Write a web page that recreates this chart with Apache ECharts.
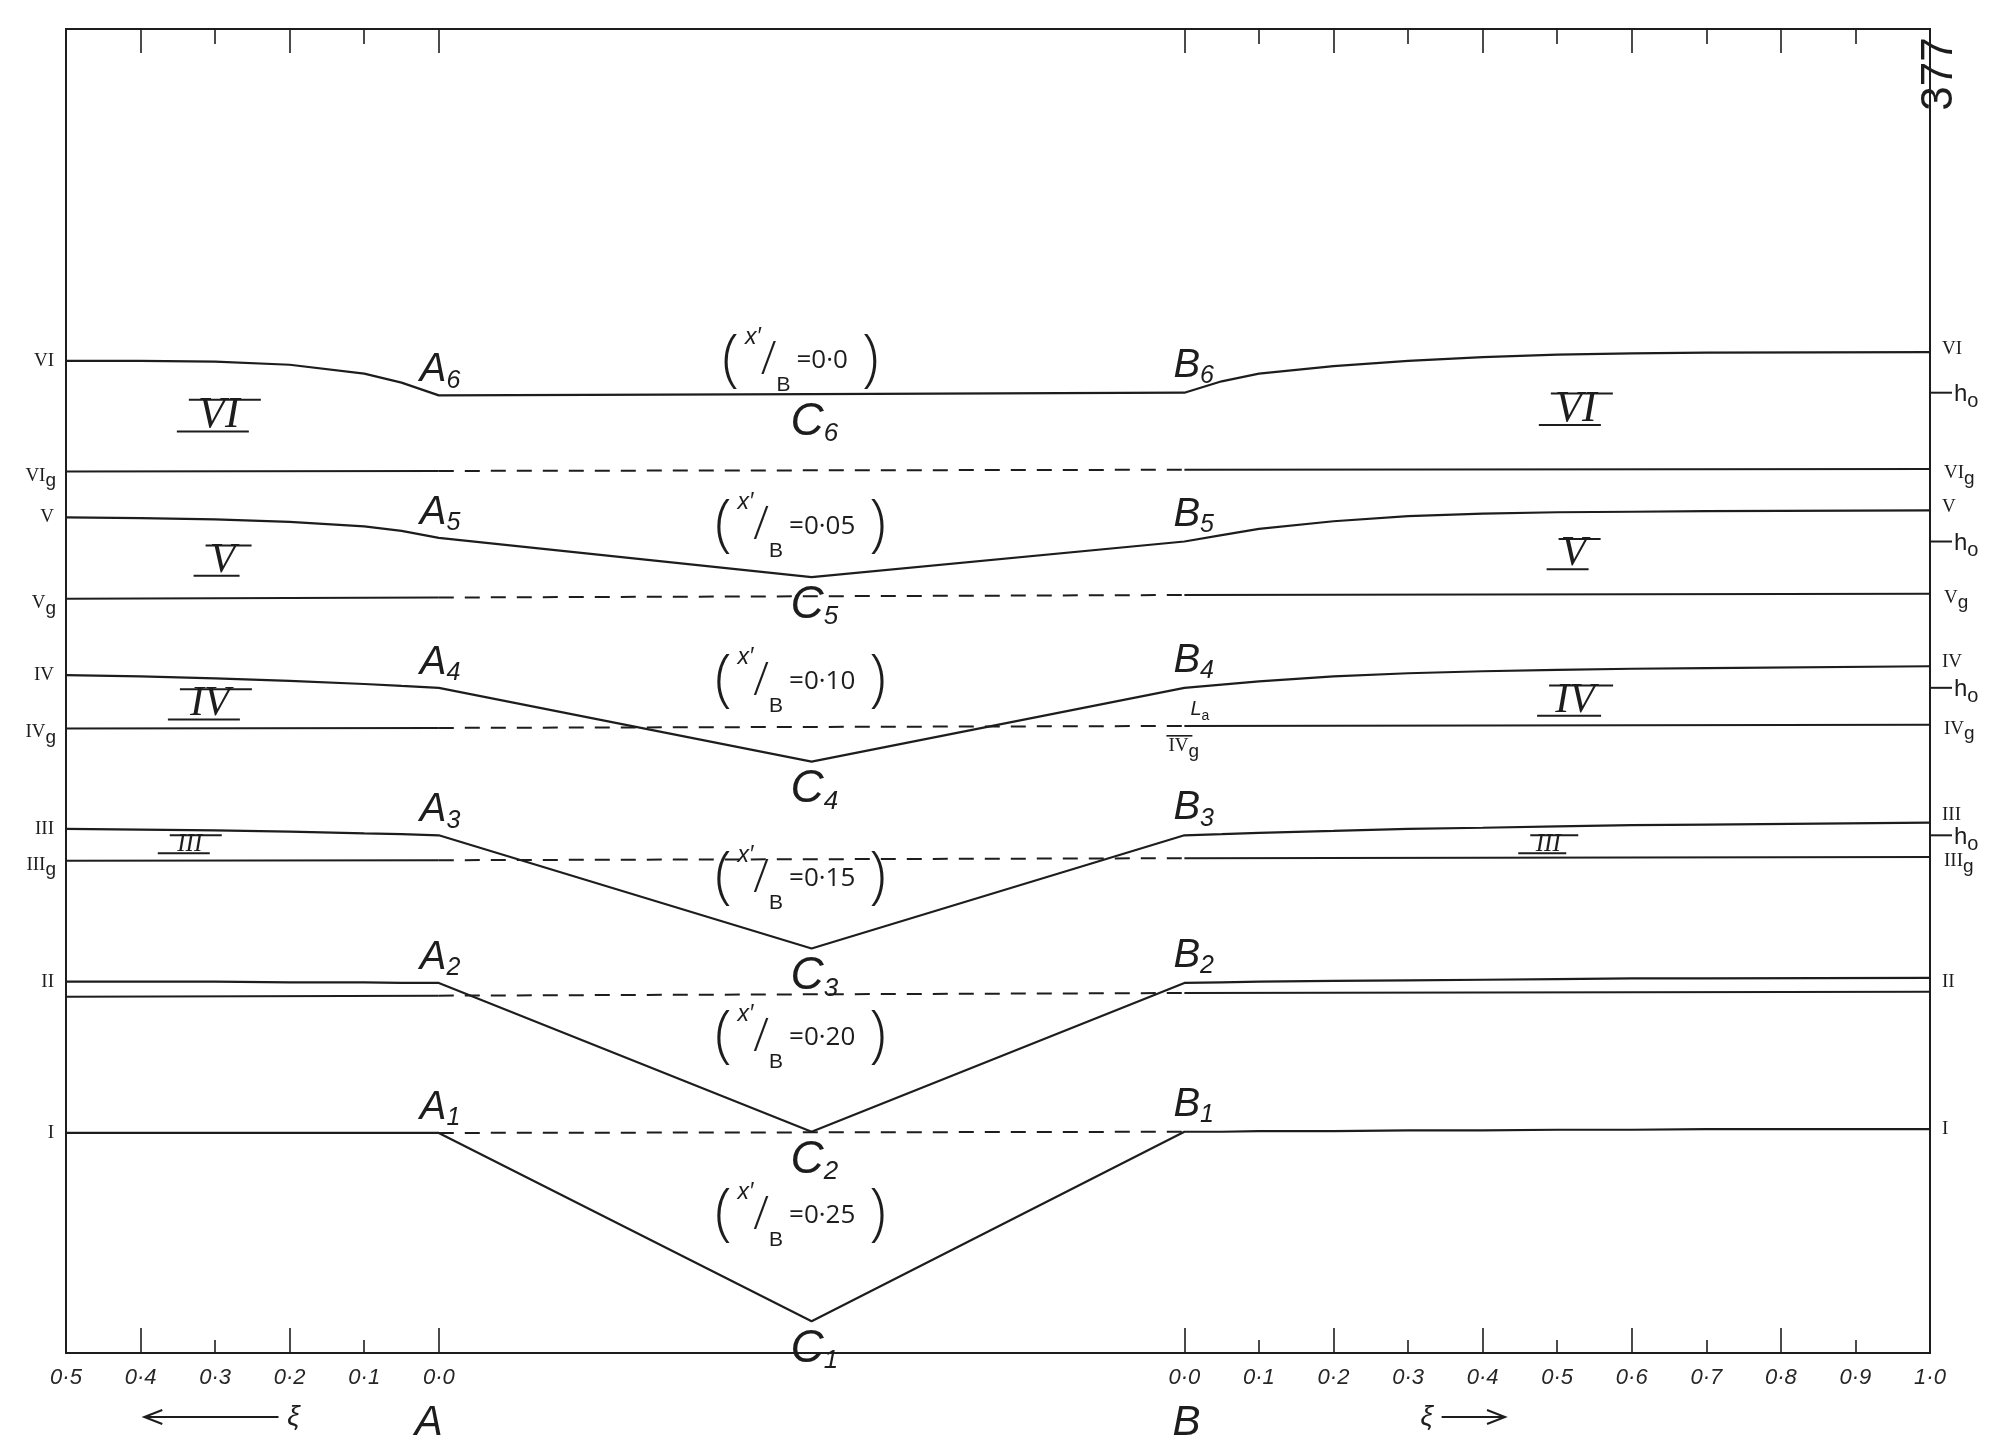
<!DOCTYPE html>
<html>
<head>
<meta charset="utf-8">
<script src="https://cdn.jsdelivr.net/npm/echarts@6/dist/echarts.min.js"></script>
<style>
  html, body { margin: 0; padding: 0; background: #ffffff; }
  #chart { width: 1996px; height: 1443px; }
</style>
</head>
<body>
<div id="chart"></div>
<script>
// Stations along the channel (one unit = 0·1 of ξ):
// 0–5 upstream reach (ξ 0·5 → 0·0 at A), 5–15 the reach A–B (C at 10), 15–25 downstream reach (ξ 0·0 → 1·0 from B)
const stations = [0, 1, 2, 3, 4, 4.5, 5, 10, 15, 15.5, 16, 17, 18, 19, 20, 21, 22, 25];

// Water-surface profiles, height above datum (arbitrary units, 0–100 over the frame)
const profileVI  = [74.93, 74.93, 74.88, 74.64, 73.97, 73.29, 72.33, 72.43, 72.53, 73.39, 73.97, 74.54, 74.93, 75.22, 75.41, 75.50, 75.55, 75.60];
const profileV   = [63.11, 63.05, 62.97, 62.78, 62.44, 62.10, 61.57, 58.60, 61.29, 61.77, 62.25, 62.82, 63.21, 63.40, 63.50, 63.54, 63.59, 63.64];
const profileIV  = [51.20, 51.10, 50.96, 50.77, 50.53, 50.38, 50.24, 44.67, 50.24, 50.48, 50.72, 51.10, 51.34, 51.49, 51.59, 51.68, 51.73, 51.87];
const profileIII = [39.58, 39.53, 39.48, 39.38, 39.24, 39.19, 39.10, 30.55, 39.10, 39.19, 39.29, 39.43, 39.58, 39.67, 39.77, 39.87, 39.91, 40.06];
const profileII  = [28.05, 28.05, 28.05, 28.00, 28.00, 27.95, 27.95, 16.71, 27.95, 28.00, 28.05, 28.10, 28.15, 28.19, 28.24, 28.29, 28.29, 28.34];
const profileI   = [16.62, 16.62, 16.62, 16.62, 16.62, 16.62, 16.62, 2.40, 16.71, 16.71, 16.76, 16.76, 16.81, 16.81, 16.86, 16.86, 16.91, 16.91];

// Levels g (solid outside A–B, dashed between A and B)
const levelStations = [0, 5, 15, 25];
const levelVIg  = [66.57, 66.62, 66.71, 66.76];
const levelVg   = [56.96, 57.06, 57.25, 57.35];
const levelIVg  = [47.17, 47.21, 47.36, 47.45];
const levelIIIg = [37.18, 37.22, 37.37, 37.46];
const levelIIg  = [26.90, 26.99, 27.19, 27.28];
const levelIgStations = [5, 15];
const levelIg   = [16.62, 16.71];

// Cases and their x'/B ratios
const caseNames  = ['VI', 'V', 'IV', 'III', 'II', 'I'];
const caseIndex  = ['6', '5', '4', '3', '2', '1'];
const ratioTexts = ['0·0', '0·05', '0·10', '0·15', '0·20', '0·25'];

// ξ tick labels
const upstreamTickLabels   = ['0·5', '0·4', '0·3', '0·2', '0·1', '0·0'];                                   // stations 0–5
const downstreamTickLabels = ['0·0', '0·1', '0·2', '0·3', '0·4', '0·5', '0·6', '0·7', '0·8', '0·9', '1·0']; // stations 15–25
const labelStations = [0, 1, 2, 3, 4, 5, 15, 16, 17, 18, 19, 20, 21, 22, 23, 24, 25];
const longTickStations  = [1, 3, 5, 15, 17, 19, 21, 23];
const shortTickStations = [2, 4, 16, 18, 20, 22, 24];

const profiles = [profileVI, profileV, profileIV, profileIII, profileII, profileI];
const levels = [levelVIg, levelVg, levelIVg, levelIIIg, levelIIg];

const INK = '#1d1d1d';
const HAND = "'Liberation Sans', 'DejaVu Sans', sans-serif";
const TYPE = "'Liberation Serif', 'DejaVu Serif', serif";
const THIN = "'Open Sans', 'Liberation Sans', sans-serif";

const pairs = (xs, ys) => xs.map((x, i) => [x, ys[i]]);
const iA = stations.indexOf(5), iC = stations.indexOf(10), iB = stations.indexOf(15);

const series = [];
profiles.forEach((p, k) => {
  series.push({
    type: 'line', name: 'profile ' + caseNames[k], data: pairs(stations, p),
    showSymbol: false, smooth: false, silent: true,
    lineStyle: { color: INK, width: 2.2 }
  });
});
levels.forEach((lv, k) => {
  const pts = pairs(levelStations, lv);
  series.push({ type: 'line', data: [pts[0], pts[1]], showSymbol: false, silent: true, lineStyle: { color: INK, width: 2 } });
  series.push({ type: 'line', data: [pts[1], pts[2]], showSymbol: false, silent: true, lineStyle: { color: INK, width: 2, type: [15, 11] } });
  series.push({ type: 'line', data: [pts[2], pts[3]], showSymbol: false, silent: true, lineStyle: { color: INK, width: 2 } });
});
series.push({ type: 'line', data: pairs(levelIgStations, levelIg), showSymbol: false, silent: true, lineStyle: { color: INK, width: 2, type: [15, 11] } });
// small rings at the break points A, C, B
series.push({
  type: 'scatter', silent: true, symbol: 'emptyCircle', symbolSize: 6,
  itemStyle: { color: '#fff', borderColor: INK, borderWidth: 1.3 },
  data: profiles.flatMap(p => [[5, p[iA]], [10, p[iC]], [15, p[iB]]])
});

const tickLine = { color: INK, width: 1.6 };
const xBase = { type: 'value', min: 0, max: 25, splitLine: { show: false }, axisLine: { show: false } };

const chart = echarts.init(document.getElementById('chart'), null, { renderer: 'canvas', width: 1996, height: 1443 });
chart.setOption({
  animation: false,
  backgroundColor: '#ffffff',
  grid: { left: 66, right: 66, top: 29, bottom: 90, show: true, borderColor: INK, borderWidth: 2, backgroundColor: 'transparent' },
  xAxis: [
    Object.assign({}, xBase, {
      position: 'bottom',
      axisTick: { show: true, inside: true, length: 25, customValues: longTickStations, lineStyle: tickLine },
      axisLabel: {
        show: true, customValues: labelStations, margin: 14,
        fontSize: 22, fontStyle: 'italic', fontFamily: HAND, color: '#262626',
        formatter: v => v <= 5 ? upstreamTickLabels[Math.round(v)] : downstreamTickLabels[Math.round(v - 15)]
      }
    }),
    Object.assign({}, xBase, {
      position: 'bottom',
      axisTick: { show: true, inside: true, length: 13, customValues: shortTickStations, lineStyle: tickLine },
      axisLabel: { show: false }
    }),
    Object.assign({}, xBase, {
      position: 'top',
      axisTick: { show: true, inside: true, length: 24, customValues: longTickStations, lineStyle: tickLine },
      axisLabel: { show: false }
    }),
    Object.assign({}, xBase, {
      position: 'top',
      axisTick: { show: true, inside: true, length: 15, customValues: shortTickStations, lineStyle: tickLine },
      axisLabel: { show: false }
    })
  ],
  yAxis: { type: 'value', min: 0, max: 100, show: false },
  series: series
});

// ---------- annotations, placed from the data through the grid's coordinate system ----------
const P = (x, y) => chart.convertToPixel({ gridIndex: 0 }, [x, y]);
const els = [];
const addText = (x, y, text, style, rotation) => els.push({
  type: 'text', x: x, y: y, rotation: rotation || 0, silent: true,
  style: Object.assign({ text: text, fill: INK }, style)
});
const addLine = (x1, y1, x2, y2, w) => els.push({
  type: 'line', silent: true, shape: { x1, y1, x2, y2 }, style: { stroke: INK, lineWidth: w || 2 }
});

const frameL = P(0, 0)[0], frameR = P(25, 0)[0], frameB = P(0, 0)[1];

// point letters A, B, C with subscripts
const letterRich = {
  m: { fontSize: 40, fontStyle: 'italic', fontFamily: HAND, fill: INK, lineHeight: 46 },
  s: { fontSize: 25, fontStyle: 'italic', fontFamily: HAND, fill: INK, lineHeight: 24, verticalAlign: 'bottom' }
};
const letterRichC = {
  m: { fontSize: 46, fontStyle: 'italic', fontFamily: HAND, fill: INK, lineHeight: 50 },
  s: { fontSize: 26, fontStyle: 'italic', fontFamily: HAND, fill: INK, lineHeight: 24, verticalAlign: 'bottom' }
};
profiles.forEach((p, k) => {
  const a = P(5, p[iA]), b = P(15, p[iB]), c = P(10, p[iC]);
  addText(a[0] - 19, a[1] - 2, '{m|A}{s|' + caseIndex[k] + '}', { rich: letterRich, align: 'left', verticalAlign: 'bottom' });
  addText(b[0] - 11, b[1] - 4, '{m|B}{s|' + caseIndex[k] + '}', { rich: letterRich, align: 'left', verticalAlign: 'bottom' });
  addText(c[0] - 21, c[1] + 3, '{m|C}{s|' + caseIndex[k] + '}', { rich: letterRichC, align: 'left', verticalAlign: 'top' });
});

// (x'/B = ...) labels
const ratioAnchorX = 9.85;
const ratioAnchorY = [74.93, 62.44, 50.72, 35.83, 23.82, 10.37];
const ratioRich = {
  p: { fontSize: 62, fontFamily: THIN, fontWeight: 300, fill: INK, lineHeight: 70 },
  x: { fontSize: 23, fontStyle: 'italic', fontFamily: HAND, fill: INK, lineHeight: 26, verticalAlign: 'top', padding: [0, 0, 0, 6] },
  sl: { fontSize: 46, fontFamily: THIN, fontWeight: 300, fill: INK, lineHeight: 50 },
  b: { fontSize: 21, fontFamily: HAND, fill: INK, lineHeight: 22, verticalAlign: 'bottom' },
  t: { fontSize: 26, fontFamily: THIN, fill: INK, lineHeight: 30, padding: [0, 14, 0, 6] }
};
ratioTexts.forEach((r, k) => {
  const q = P(ratioAnchorX, ratioAnchorY[k]);
  addText(q[0], q[1], '{p|(}{x|x′}{sl|/}{b|B}{t|=' + r + '}{p|)}', { rich: ratioRich, align: 'center', verticalAlign: 'middle' });
});

// case numerals with bars in the upstream and downstream reaches
const regionMarks = [
  { k: 0, x: 2.05, y: 70.80, s: 44, w: 70 }, { k: 0, x: 20.25, y: 71.28, s: 44, w: 60 },
  { k: 1, x: 2.10, y: 59.85, s: 42, w: 44 }, { k: 1, x: 20.22, y: 60.33, s: 42, w: 40 },
  { k: 2, x: 1.93, y: 48.99, s: 42, w: 70 }, { k: 2, x: 20.24, y: 49.28, s: 42, w: 62 },
  { k: 3, x: 1.66, y: 38.42, s: 25, w: 50 }, { k: 3, x: 19.88, y: 38.42, s: 25, w: 46 }
];
regionMarks.forEach(m => {
  const q = P(m.x, m.y);
  addText(q[0], q[1], caseNames[m.k], { fontSize: m.s, fontStyle: 'italic', fontFamily: TYPE, align: 'center', verticalAlign: 'middle' });
  const h = m.s * 0.36;
  addLine(q[0] - m.w / 2 + 5, q[1] - h, q[0] + m.w / 2 + 7, q[1] - h, 2);
  addLine(q[0] - m.w / 2 - 7, q[1] + h, q[0] + m.w / 2 - 5, q[1] + h, 2);
});

// labels at the left and right edges
const edgeRich = {
  r: { fontSize: 19, fontFamily: TYPE, fill: INK, lineHeight: 24 },
  g: { fontSize: 19, fontFamily: HAND, fill: INK, lineHeight: 30, verticalAlign: 'bottom' },
  h: { fontSize: 24, fontFamily: HAND, fill: INK, lineHeight: 28 },
  o: { fontSize: 20, fontFamily: HAND, fill: INK, lineHeight: 34, verticalAlign: 'bottom' }
};
profiles.forEach((p, k) => {
  const l = P(0, p[0]);
  addText(frameL - 12, l[1], '{r|' + caseNames[k] + '}', { rich: edgeRich, align: 'right', verticalAlign: 'middle' });
  const r = P(25, p[p.length - 1]);
  const lift = [-3, -3, -4, -8, 4, 0][k];
  addText(frameR + 12, r[1] + lift, '{r|' + caseNames[k] + '}', { rich: edgeRich, align: 'left', verticalAlign: 'middle' });
});
levels.forEach((lv, k) => {
  if (k === 4) return; // level II carries no g mark at the edges
  const l = P(0, lv[0]);
  addText(frameL - 10, l[1] + 4, '{r|' + caseNames[k] + '}{g|g}', { rich: edgeRich, align: 'right', verticalAlign: 'middle' });
  const r = P(25, lv[3]);
  addText(frameR + 14, r[1] + 4, '{r|' + caseNames[k] + '}{g|g}', { rich: edgeRich, align: 'left', verticalAlign: 'middle' });
});
// h₀ marks at the level of B for cases VI–III
[0, 1, 2, 3].forEach(k => {
  const b = P(25, profiles[k][iB]);
  addLine(frameR, b[1], frameR + 22, b[1], 2);
  addText(frameR + 24, b[1] + 2, '{h|h}{o|o}', { rich: edgeRich, align: 'left', verticalAlign: 'middle' });
});

// small notes near B4
const b4 = P(15, profileIV[iB]);
addText(b4[0] + 6, b4[1] + 22, '{m|L}{s|a}', {
  rich: { m: { fontSize: 20, fontStyle: 'italic', fontFamily: HAND, fill: INK }, s: { fontSize: 14, fontFamily: HAND, fill: INK, verticalAlign: 'bottom', lineHeight: 26 } },
  align: 'left', verticalAlign: 'middle'
});
addText(b4[0] - 16, b4[1] + 58, '{r|IV}{g|g}', { rich: edgeRich, align: 'left', verticalAlign: 'middle' });
addLine(b4[0] - 18, b4[1] + 48, b4[0] + 8, b4[1] + 48, 1.6);

// A and B under the axis, and ξ direction arrows
addText(P(5, 0)[0] - 10, frameB + 70, 'A', { fontSize: 42, fontStyle: 'italic', fontFamily: HAND, align: 'center', verticalAlign: 'middle' });
addText(P(15, 0)[0] + 2, frameB + 70, 'B', { fontSize: 42, fontStyle: 'italic', fontFamily: HAND, align: 'center', verticalAlign: 'middle' });
const arrowY = frameB + 64;
const la1 = P(1.05, 0)[0], la2 = P(2.85, 0)[0];
addLine(la1, arrowY, la2, arrowY, 2);
els.push({ type: 'polyline', silent: true, shape: { points: [[la1 + 18, arrowY - 7], [la1, arrowY], [la1 + 18, arrowY + 7]] }, style: { stroke: INK, lineWidth: 2, fill: null } });
addText(P(3.05, 0)[0], arrowY, 'ξ', { fontSize: 28, fontStyle: 'italic', fontFamily: HAND, align: 'center', verticalAlign: 'middle' });
const ra1 = P(18.45, 0)[0], ra2 = P(19.3, 0)[0];
addText(P(18.25, 0)[0], arrowY, 'ξ', { fontSize: 28, fontStyle: 'italic', fontFamily: HAND, align: 'center', verticalAlign: 'middle' });
addLine(ra1, arrowY, ra2, arrowY, 2);
els.push({ type: 'polyline', silent: true, shape: { points: [[ra2 - 18, arrowY - 7], [ra2, arrowY], [ra2 - 18, arrowY + 7]] }, style: { stroke: INK, lineWidth: 2, fill: null } });

// sheet number, written sideways at the top right corner
addText(frameR + 10, 74, '377', { fontSize: 44, fontFamily: HAND, align: 'center', verticalAlign: 'middle' }, Math.PI / 2);

chart.setOption({ graphic: els });
</script>
</body>
</html>
